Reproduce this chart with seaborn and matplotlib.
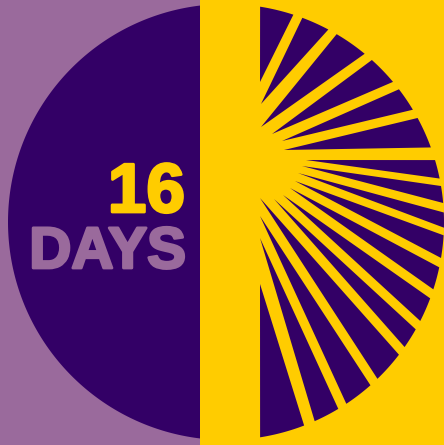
import numpy as np
import pandas as pd
import matplotlib
matplotlib.use("Agg")
import matplotlib.pyplot as plt
import matplotlib.patheffects as pe
from matplotlib.patches import Rectangle
import seaborn as sns

# ---- values (pixel space) ----
LIGHT = "#9a6a9c"
DARK = "#330066"
YELLOW = "#ffcc00"

circle_center = (226, 222)
circle_radius = 218
left_panel_edge = 200
fan_left_edge = 260

# each ray: inner tip (x, y) and the rim angles it spans (deg, ccw from +x)
ray_tip_x = [260, 261, 261, 272, 282, 284, 306, 302, 298, 295, 290, 283, 274, 260, 260, 260, 260]
ray_tip_y = [82, 104, 127, 134, 141, 150, 160, 166, 173, 181, 188, 195, 199, 198, 216, 238, 284]
ray_rim_from = [81.0, 69.5, 59.5, 48.0, 37.5, 28.5, 16.5, 9.5, 2.5, -3.5, -12.0, -20.5,
                -29.5, -37.5, -48.5, -59.0, -69.0]
ray_rim_to = [72.0, 62.0, 50.5, 40.0, 31.0, 20.0, 11.5, 5.0, -1.5, -9.5, -18.0, -27.0,
              -35.0, -46.0, -56.5, -66.0, -81.0]
title_number = "16"
title_word = "DAYS"

sns.set_theme(style="white")
plt.rcParams["font.family"] = ["Liberation Sans", "DejaVu Sans"]

W, H = 444, 445
fig = plt.figure(figsize=(W / 100, H / 100), dpi=100)
ax = fig.add_axes([0, 0, 1, 1])

cx, cy = circle_center
R = circle_radius

# backgrounds
ax.add_patch(Rectangle((0, 0), left_panel_edge, H, color=LIGHT, lw=0, zorder=0))
ax.add_patch(Rectangle((left_panel_edge, 0), W - left_panel_edge, H, color=YELLOW, lw=0, zorder=0))

def arc(t0, t1, n=200):
    t = np.radians(np.linspace(t0, t1, n))
    return cx + R * np.cos(t), cy - R * np.sin(t)

# left dark half disc (x <= left_panel_edge)
a = np.degrees(np.arccos((left_panel_edge - cx) / R))
xs, ys = arc(a, 360 - a)
ax.fill(xs, ys, color=DARK, lw=0, zorder=1)

# rays as polygons built into one long table, drawn with seaborn's fill via matplotlib
rows = []
for i, (tx, ty, r0, r1) in enumerate(zip(ray_tip_x, ray_tip_y, ray_rim_from, ray_rim_to)):
    xs, ys = arc(r0, r1, 80)
    px = np.concatenate([[tx], xs])
    py = np.concatenate([[ty], ys])
    px = np.clip(px, fan_left_edge, None)
    for k, (x, y) in enumerate(zip(px, py)):
        rows.append({"ray": i, "k": k, "x": x, "y": y})
rays = pd.DataFrame(rows)
for _, g in rays.groupby("ray"):
    ax.fill(g["x"], g["y"], color=DARK, lw=0, zorder=2)
# rim outline of the rays through seaborn (zero-width helper keeps scales shared)
sns.lineplot(data=rays, x="x", y="y", units="ray", estimator=None, sort=False,
             color=DARK, linewidth=0.0, ax=ax, legend=False, zorder=1)

ax.text(185, 212, title_number, ha="right", va="baseline", fontsize=50,
        fontweight="bold", color=YELLOW, zorder=4,
        path_effects=[pe.withStroke(linewidth=2, foreground=YELLOW)])
ax.text(186, 268, title_word, ha="right", va="baseline", fontsize=42,
        fontweight="bold", color=LIGHT, zorder=4,
        path_effects=[pe.withStroke(linewidth=2, foreground=LIGHT)])

ax.set_xlim(0, W)
ax.set_ylim(H, 0)
ax.axis("off")
fig.savefig("out.png", dpi=100)
